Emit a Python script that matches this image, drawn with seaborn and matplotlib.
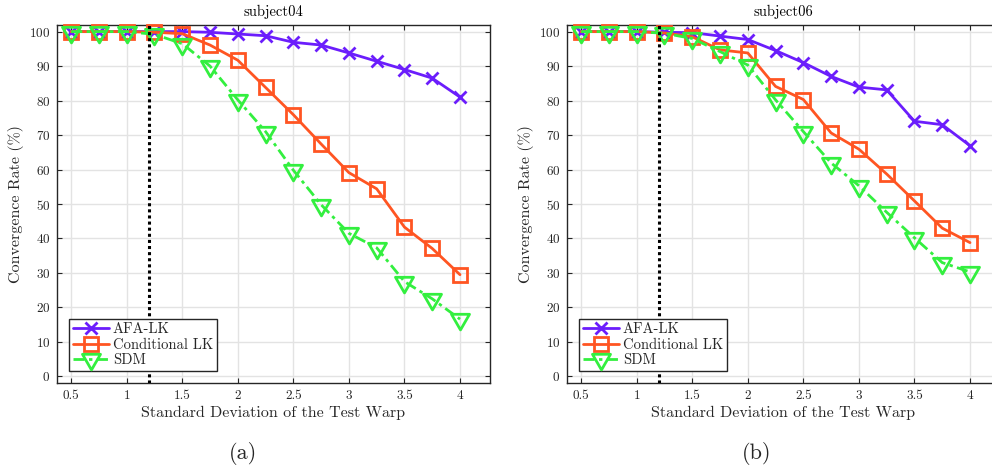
import numpy as np
import pandas as pd
import matplotlib
matplotlib.use("Agg")
import matplotlib.pyplot as plt
from matplotlib.path import Path
import seaborn as sns

# Standard deviation of the test warp
warp_sd = [0.5, 0.75, 1.0, 1.25, 1.5, 1.75, 2.0, 2.25, 2.5, 2.75, 3.0, 3.25, 3.5, 3.75, 4.0]

# subject04 convergence rates (%)
s04_afa = [100, 100, 100, 100, 100, 99.8, 99.3, 98.8, 96.9, 96.1, 93.8, 91.4, 89.0, 86.5, 81.0]
s04_clk = [100, 100, 100, 99.8, 99.4, 96.1, 91.7, 83.8, 75.9, 67.4, 59.1, 54.4, 43.3, 37.1, 29.5]
s04_sdm = [100, 100, 100, 99.2, 96.5, 90.0, 80.2, 71.0, 59.8, 49.8, 41.5, 37.3, 27.5, 22.5, 16.6]

# subject06 convergence rates (%)
s06_afa = [100, 100, 100, 99.8, 99.7, 98.7, 97.7, 94.5, 91.0, 87.0, 83.9, 83.1, 74.0, 73.0, 66.9]
s06_clk = [100, 100, 100, 99.6, 98.5, 94.7, 93.8, 84.1, 80.3, 70.6, 65.9, 58.7, 50.9, 43.0, 38.8]
s06_sdm = [100, 100, 100, 99.5, 98.0, 94.2, 90.3, 80.2, 71.0, 61.9, 55.3, 47.6, 40.2, 33.0, 30.3]

methods = ["AFA-LK", "Conditional LK", "SDM"]
panel_titles = ["subject04", "subject06"]
panel_tags = ["(a)", "(b)"]
threshold_sd = 1.2

sns.set_style("ticks")
plt.rcParams["font.family"] = ["cmr10", "DejaVu Serif"]
plt.rcParams["mathtext.fontset"] = "cm"
plt.rcParams["axes.formatter.use_mathtext"] = True
plt.rcParams["axes.unicode_minus"] = False

dark = "#262626"

# downward triangle centred on its centroid
tri_down = Path([(0, -1.0), (-0.866, 0.5), (0.866, 0.5), (0, -1.0)],
                [Path.MOVETO, Path.LINETO, Path.LINETO, Path.CLOSEPOLY])

styles = {
    "AFA-LK": dict(color="#6b1dfc", marker="x", ms=9.0, ls="-"),
    "Conditional LK": dict(color="#ff5522", marker="s", ms=9.5, ls="-"),
    "SDM": dict(color="#33ef3f", marker=tri_down, ms=15, ls=(0, (4.0, 1.6, 1.2, 1.6))),
}

panels = [
    {"AFA-LK": s04_afa, "Conditional LK": s04_clk, "SDM": s04_sdm},
    {"AFA-LK": s06_afa, "Conditional LK": s06_clk, "SDM": s06_sdm},
]

fig = plt.figure(figsize=(9.92, 4.69), dpi=100)
W, H = 992.0, 469.0
ax_w, ax_h = 433.3, 358.6
lefts = [56.7, 566.7]
bottom = H - 383.3

for i, (series, title, tag) in enumerate(zip(panels, panel_titles, panel_tags)):
    ax = fig.add_axes([lefts[i] / W, bottom / H, ax_w / W, ax_h / H])
    df = pd.DataFrame({"sd": warp_sd, **series})
    for m in methods:
        st = styles[m]
        sns.lineplot(data=df, x="sd", y=m, ax=ax, sort=False, errorbar=None,
                     color=st["color"], linestyle=st["ls"], linewidth=2.0,
                     marker=st["marker"], markersize=st["ms"],
                     markerfacecolor="none", markeredgecolor=st["color"],
                     markeredgewidth=2.0, label=m, zorder=3, clip_on=False)
    ax.axvline(threshold_sd, color="black", linestyle=(0, (1, 1)), linewidth=2.2, zorder=4)

    ax.set_xlim(0.37, 4.27)
    ax.set_ylim(-2, 102)
    ax.set_xticks(np.arange(0.5, 4.01, 0.5))
    ax.set_xticklabels(["0.5", "1", "1.5", "2", "2.5", "3", "3.5", "4"])
    ax.set_yticks(np.arange(0, 101, 10))
    ax.grid(True, color="#e3e3e3", linewidth=1.0, zorder=0)
    ax.set_axisbelow(True)
    ax.tick_params(direction="in", top=True, right=True, length=3.5, width=0.8,
                   colors=dark, labelsize=9.5, pad=4.5)
    for sp in ax.spines.values():
        sp.set_color(dark)
        sp.set_linewidth(1.0)

    ax.set_title(title, fontsize=10.5, color="black", pad=6)
    ax.set_xlabel("Standard Deviation of the Test Warp", fontsize=11.5, color=dark, labelpad=3)
    ax.set_ylabel("Convergence Rate (%)", fontsize=11.5, color=dark, labelpad=4)

    leg = ax.legend(loc="lower left", bbox_to_anchor=(0.0284, 0.0343), borderaxespad=0,
                    fontsize=10.5, frameon=True, fancybox=False, framealpha=1,
                    edgecolor=dark, handlelength=2.5, handletextpad=0.25,
                    labelspacing=0.12, borderpad=0.25, numpoints=1)
    leg.get_frame().set_linewidth(1.0)
    leg.set_zorder(5)

    tag_x = [243, 757][i]
    fig.text(tag_x / W, 1 - 453 / H, tag, fontsize=16, ha="center", va="center")

fig.savefig("out.png", dpi=100)
